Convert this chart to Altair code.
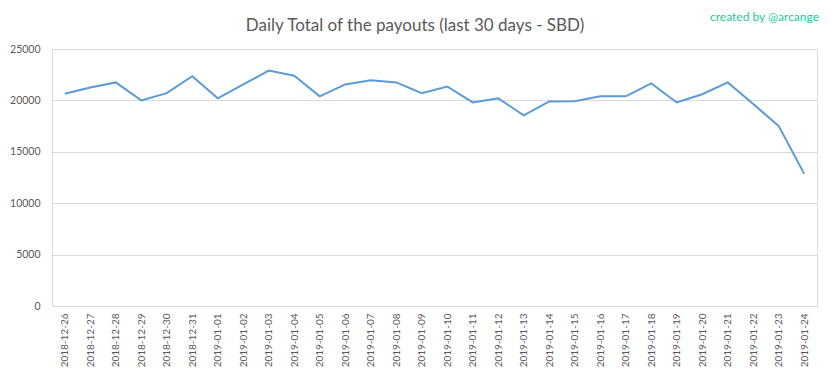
import altair as alt
import pandas as pd

dates = [
    "2018-12-26", "2018-12-27", "2018-12-28", "2018-12-29", "2018-12-30", "2018-12-31",
    "2019-01-01", "2019-01-02", "2019-01-03", "2019-01-04", "2019-01-05", "2019-01-06",
    "2019-01-07", "2019-01-08", "2019-01-09", "2019-01-10", "2019-01-11", "2019-01-12",
    "2019-01-13", "2019-01-14", "2019-01-15", "2019-01-16", "2019-01-17", "2019-01-18",
    "2019-01-19", "2019-01-20", "2019-01-21", "2019-01-22", "2019-01-23", "2019-01-24",
]
values = [
    20650, 21250, 21750, 20000, 20700, 22350,
    20200, 21550, 22900, 22400, 20400, 21550,
    21950, 21750, 20700, 21350, 19800, 20200,
    18550, 19900, 19920, 20400, 20400, 21650,
    19800, 20600, 21750, 19650, 17500, 12850,
]
y_ticks = [0, 5000, 10000, 15000, 20000, 25000]
title_text = "Daily Total of the payouts (last 30 days - SBD)"
credit_text = "created by @arcange"

df = pd.DataFrame({"date": dates, "value": values})

FONT = "Lato"
TXT = "#595959"

line = alt.Chart(df).mark_line(color="#5B9BD5", strokeWidth=2).encode(
    x=alt.X(
        "date:O",
        sort=None,
        scale=alt.Scale(type="point", padding=0.5),
        axis=alt.Axis(
            title=None,
            labelAngle=270,
            ticks=False,
            domain=True,
            domainColor="#D9D9D9",
            labelPadding=7,
            labelFontSize=10,
            labelColor=TXT,
            labelFont=FONT,
            grid=False,
        ),
    ),
    y=alt.Y(
        "value:Q",
        scale=alt.Scale(domain=[0, 25000], nice=False),
        axis=alt.Axis(
            title=None,
            values=y_ticks,
            format="d",
            domain=False,
            ticks=False,
            labelPadding=12,
            labelFontSize=10.5,
            labelColor=TXT,
            labelFont=FONT,
            gridColor="#D9D9D9",
        ),
    ),
)

one = alt.Data(values=[{}])

title = alt.Chart(one).mark_text(
    text=title_text,
    align="center",
    baseline="alphabetic",
    color=TXT,
    font=FONT,
    fontSize=17,
).encode(x=alt.value(363), y=alt.value(-18))

credit = alt.Chart(one).mark_text(
    text=credit_text,
    align="right",
    baseline="alphabetic",
    color="#1DC99B",
    font=FONT,
    fontSize=12,
).encode(x=alt.value(767), y=alt.value(-28))

chart = alt.layer(line, title, credit).properties(
    width=765,
    height=257,
    padding={"left": 44, "top": 41, "right": 8, "bottom": 63},
    autosize=alt.AutoSizeParams(type="none"),
).configure_view(stroke=None).configure(background="white")

chart.save("out.html", embed_options={"renderer": "svg", "actions": False})
